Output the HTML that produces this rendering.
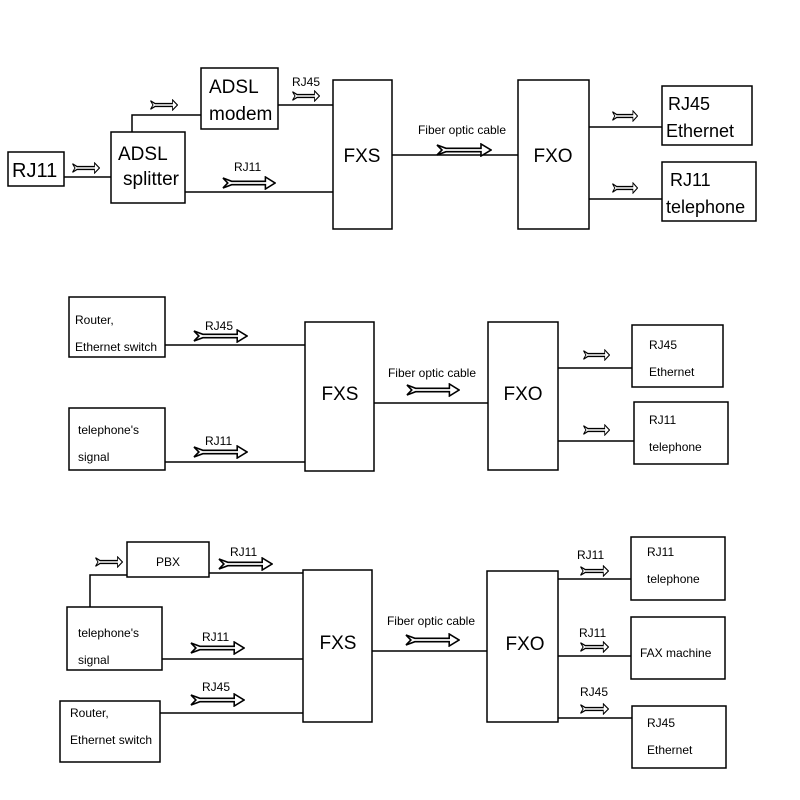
<!DOCTYPE html>
<html><head><meta charset="utf-8"><style>
html,body{margin:0;padding:0;background:#fff;}
svg{display:block;font-family:"Liberation Sans",Arial,sans-serif;}
</style></head><body>
<svg width="800" height="800" viewBox="0 0 800 800" xmlns="http://www.w3.org/2000/svg">
<defs>
<symbol id="a" viewBox="0 0 56 14" preserveAspectRatio="none">
<polygon points="1,2 10,5.3 45,5.3 45,1 55,7 45,13 45,8.7 10,8.7 1,12 6,7" fill="#fff" stroke="#000" stroke-width="1.6"/>
</symbol>
</defs>
<g fill="none" stroke="#000" stroke-width="1.5">
<rect x="8" y="152" width="56" height="34"/>
<rect x="111" y="132" width="74" height="71"/>
<rect x="201" y="68" width="77" height="61"/>
<rect x="333" y="80" width="59" height="149"/>
<rect x="518" y="80" width="71" height="149"/>
<rect x="662" y="86" width="90" height="59"/>
<rect x="662" y="162" width="94" height="59"/>
<polyline points="64,177 111,177"/>
<polyline points="132,132 132,115 201,115"/>
<polyline points="278,105 333,105"/>
<polyline points="185,192 333,192"/>
<polyline points="392,155 518,155"/>
<polyline points="589,127 662,127"/>
<polyline points="589,199 662,199"/>
<rect x="69" y="297" width="96" height="60"/>
<rect x="69" y="408" width="96" height="62"/>
<rect x="305" y="322" width="69" height="149"/>
<rect x="488" y="322" width="70" height="148"/>
<rect x="632" y="325" width="91" height="62"/>
<rect x="634" y="402" width="94" height="62"/>
<polyline points="165,345 305,345"/>
<polyline points="165,462 305,462"/>
<polyline points="374,403 488,403"/>
<polyline points="558,368 632,368"/>
<polyline points="558,441 634,441"/>
<rect x="127" y="542" width="82" height="35"/>
<rect x="67" y="607" width="95" height="63"/>
<rect x="60" y="701" width="100" height="61"/>
<rect x="303" y="570" width="69" height="152"/>
<rect x="487" y="571" width="71" height="151"/>
<rect x="631" y="537" width="94" height="63"/>
<rect x="631" y="617" width="94" height="62"/>
<rect x="632" y="706" width="94" height="62"/>
<polyline points="90,607 90,575 127,575"/>
<polyline points="209,573 303,573"/>
<polyline points="162,659 303,659"/>
<polyline points="160,713 303,713"/>
<polyline points="372,651 487,651"/>
<polyline points="558,579 631,579"/>
<polyline points="558,656 631,656"/>
<polyline points="558,718 632,718"/>
</g>
<use href="#a" x="72" y="162" width="28" height="12"/>
<use href="#a" x="150" y="99" width="28" height="12"/>
<use href="#a" x="292" y="90" width="28" height="12"/>
<use href="#a" x="222" y="176" width="54" height="14"/>
<use href="#a" x="436" y="143" width="56" height="14"/>
<use href="#a" x="612" y="110" width="26" height="12"/>
<use href="#a" x="612" y="182" width="26" height="12"/>
<use href="#a" x="193" y="329" width="55" height="14"/>
<use href="#a" x="193" y="445" width="55" height="14"/>
<use href="#a" x="406" y="383" width="54" height="14"/>
<use href="#a" x="583" y="349" width="27" height="12"/>
<use href="#a" x="583" y="424" width="27" height="12"/>
<use href="#a" x="95" y="556" width="28" height="12"/>
<use href="#a" x="218" y="557" width="55" height="14"/>
<use href="#a" x="190" y="641" width="55" height="14"/>
<use href="#a" x="190" y="693" width="55" height="14"/>
<use href="#a" x="405" y="633" width="55" height="14"/>
<use href="#a" x="580" y="565" width="29" height="12"/>
<use href="#a" x="580" y="641" width="29" height="12"/>
<use href="#a" x="580" y="703" width="29" height="12"/>
<g fill="#000">
<text x="12" y="177" font-size="20">RJ11</text>
<text x="118" y="160" font-size="19">ADSL</text>
<text x="123" y="185" font-size="19">splitter</text>
<text x="209" y="93" font-size="19">ADSL</text>
<text x="209" y="120" font-size="19">modem</text>
<text x="292" y="86" font-size="12">RJ45</text>
<text x="234" y="171" font-size="12">RJ11</text>
<text x="362" y="162" font-size="19" text-anchor="middle">FXS</text>
<text x="553" y="162" font-size="19" text-anchor="middle">FXO</text>
<text x="462" y="134" font-size="12" text-anchor="middle">Fiber optic cable</text>
<text x="668" y="110" font-size="18">RJ45</text>
<text x="666" y="137" font-size="18">Ethernet</text>
<text x="670" y="186" font-size="18">RJ11</text>
<text x="666" y="213" font-size="18">telephone</text>
<text x="75" y="324" font-size="12">Router,</text>
<text x="75" y="351" font-size="12">Ethernet switch</text>
<text x="205" y="330" font-size="12">RJ45</text>
<text x="78" y="434" font-size="12">telephone's</text>
<text x="78" y="461" font-size="12">signal</text>
<text x="205" y="445" font-size="12">RJ11</text>
<text x="340" y="400" font-size="19" text-anchor="middle">FXS</text>
<text x="523" y="400" font-size="19" text-anchor="middle">FXO</text>
<text x="432" y="377" font-size="12" text-anchor="middle">Fiber optic cable</text>
<text x="649" y="349" font-size="12">RJ45</text>
<text x="649" y="376" font-size="12">Ethernet</text>
<text x="649" y="424" font-size="12">RJ11</text>
<text x="649" y="451" font-size="12">telephone</text>
<text x="168" y="566" font-size="12" text-anchor="middle">PBX</text>
<text x="230" y="556" font-size="12">RJ11</text>
<text x="78" y="637" font-size="12">telephone's</text>
<text x="78" y="664" font-size="12">signal</text>
<text x="202" y="641" font-size="12">RJ11</text>
<text x="202" y="691" font-size="12">RJ45</text>
<text x="70" y="717" font-size="12">Router,</text>
<text x="70" y="744" font-size="12">Ethernet switch</text>
<text x="338" y="649" font-size="19" text-anchor="middle">FXS</text>
<text x="525" y="650" font-size="19" text-anchor="middle">FXO</text>
<text x="431" y="625" font-size="12" text-anchor="middle">Fiber optic cable</text>
<text x="577" y="559" font-size="12">RJ11</text>
<text x="579" y="637" font-size="12">RJ11</text>
<text x="580" y="696" font-size="12">RJ45</text>
<text x="647" y="556" font-size="12">RJ11</text>
<text x="647" y="583" font-size="12">telephone</text>
<text x="640" y="657" font-size="12">FAX machine</text>
<text x="647" y="727" font-size="12">RJ45</text>
<text x="647" y="754" font-size="12">Ethernet</text>
</g>
</svg>
</body></html>
